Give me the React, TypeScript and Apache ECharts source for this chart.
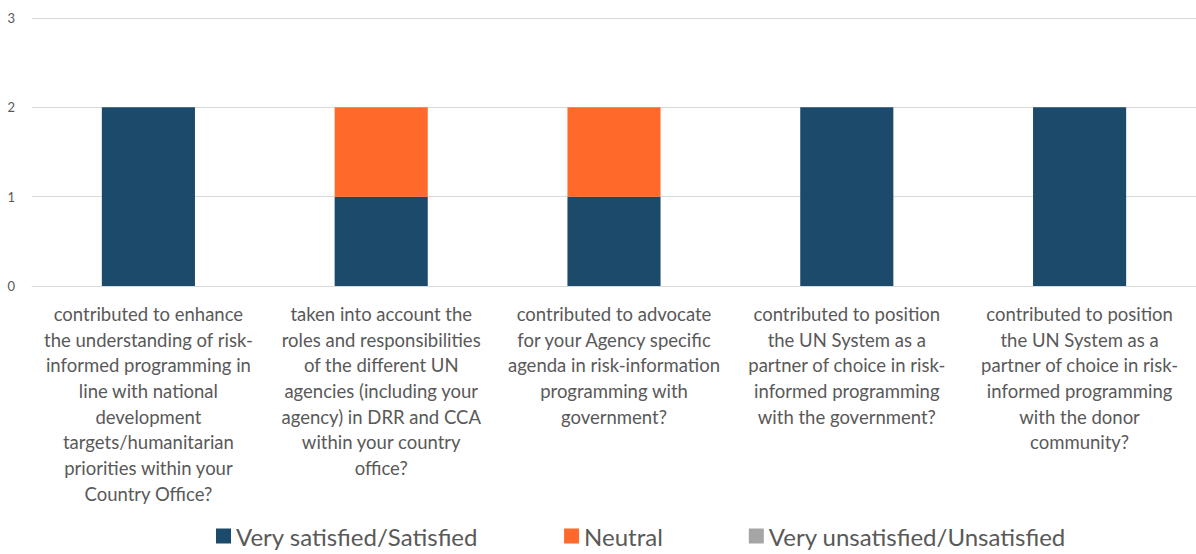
import React, { useEffect, useRef } from "react";
import * as echarts from "echarts";

const categories = [
  "contributed to enhance\nthe understanding of risk-\ninformed programming in\nline with national\ndevelopment\ntargets/humanitarian\npriorities within your\nCountry Office?",
  "taken into account the\nroles and responsibilities\nof the different UN\nagencies (including your\nagency) in DRR and CCA\nwithin your country\noffice?",
  "contributed to advocate\nfor your Agency specific\nagenda in risk-information\nprogramming with\ngovernment?",
  "contributed to position\nthe UN System as a\npartner of choice in risk-\ninformed programming\nwith the government?",
  "contributed to position\nthe UN System as a\npartner of choice in risk-\ninformed programming\nwith the donor\ncommunity?",
];
const satisfied = [2, 1, 1, 2, 2];
const neutral = [0, 1, 1, 0, 0];
const unsatisfied = [0, 0, 0, 0, 0];
const seriesNames = ["Very satisfied/Satisfied", "Neutral", "Very unsatisfied/Unsatisfied"];
const colors = ["#1C4A6B", "#FF6A2B", "#A5A5A5"];

export default function App() {
  const ref = useRef<HTMLDivElement>(null);
  useEffect(() => {
    if (!ref.current) return;
    const chart = echarts.init(ref.current, null, { renderer: "svg" });
    const font = "Lato, 'Open Sans', sans-serif";
    chart.setOption({
      animation: false,
      color: colors,
      textStyle: { fontFamily: font },
      grid: { left: 32, right: -3, top: 18, bottom: 268 },
      legend: {
        bottom: 1,
        left: 211,
        itemWidth: 15,
        itemHeight: 15,
        itemGap: 86,
        icon: "rect",
        textStyle: { fontSize: 24, color: "#595959", fontFamily: font },
        data: seriesNames,
      },
      xAxis: {
        type: "category",
        data: categories,
        axisLine: { show: true, lineStyle: { color: "#D9D9D9" } },
        axisTick: { show: false },
        axisLabel: {
          interval: 0,
          fontSize: 18.5,
          lineHeight: 25.7,
          color: "#595959",
          margin: 15,
          fontFamily: font,
        },
      },
      yAxis: {
        type: "value",
        min: 0,
        max: 3,
        interval: 1,
        axisLine: { show: false },
        axisTick: { show: false },
        splitLine: { lineStyle: { color: "#D9D9D9", width: 1 } },
        axisLabel: { fontSize: 13, color: "#595959", margin: 17, fontFamily: font },
      },
      series: [
        { name: seriesNames[0], type: "bar", stack: "a", data: satisfied, barCategoryGap: "60%" },
        { name: seriesNames[1], type: "bar", stack: "a", data: neutral, barCategoryGap: "60%" },
        { name: seriesNames[2], type: "bar", stack: "a", data: unsatisfied, barCategoryGap: "60%" },
      ],
    });
    return () => chart.dispose();
  }, []);
  return (
    <div
      ref={ref}
      style={{ position: "fixed", left: 0, top: 0, width: 1196, height: 554, background: "#fff" }}
    />
  );
}
